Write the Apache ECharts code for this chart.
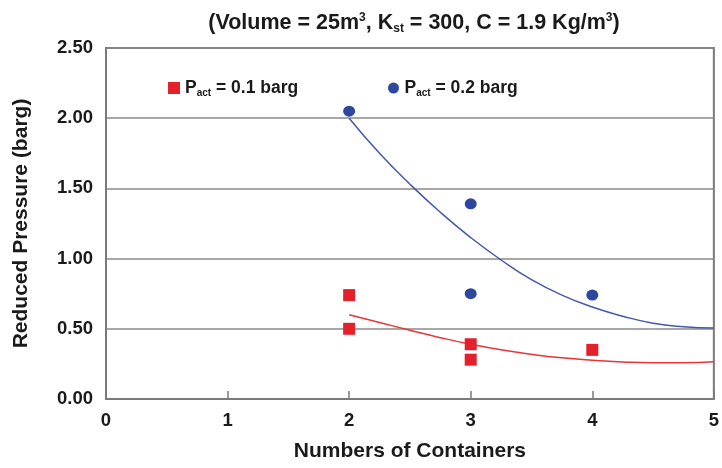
<!DOCTYPE html>
<html>
<head>
<meta charset="utf-8">
<script src="https://cdn.jsdelivr.net/npm/echarts@6/dist/echarts.min.js"></script>
<style>html,body{margin:0;padding:0;background:#fff}#c{width:722px;height:468px}</style>
</head>
<body>
<div id="c"></div>
<script>
// Measured points
const redPoints = [[2, 0.74], [2, 0.50], [3, 0.39], [3, 0.28], [4, 0.35]];
const bluePoints = [[2, 2.05], [3, 1.39], [3, 0.75], [4, 0.74]];
// Trend curves
const trendX = [2, 2.25, 2.5, 2.75, 3, 3.25, 3.5, 3.75, 4, 4.25, 4.5, 4.75, 5];
const blueTrendY = [2.00, 1.75, 1.53, 1.33, 1.15, 0.99, 0.85, 0.74, 0.655, 0.59, 0.54, 0.515, 0.505];
const redTrendY = [0.60, 0.545, 0.49, 0.437, 0.39, 0.35, 0.318, 0.293, 0.276, 0.264, 0.258, 0.258, 0.265];
const xTicks = [0, 1, 2, 3, 4, 5];
const yTicks = [0, 0.5, 1.0, 1.5, 2.0, 2.5];

const font = 'Liberation Sans, Arial, sans-serif';
const chart = echarts.init(document.getElementById('c'));
const legendRich = {
  b: {fontFamily: font, fontWeight: 'bold', fontSize: 17.5, color: '#1a1a1a'},
  s: {fontFamily: font, fontWeight: 'bold', fontSize: 10, color: '#1a1a1a', verticalAlign: 'bottom', padding: [10, 0, 0, 0]}
};
chart.setOption({
  animation: false,
  title: {
    text: '{b|(Volume = 25m}{sup|3}{b|, K}{sub|st}{b| = 300, C = 1.9 Kg/m}{sup|3}{b|)}',
    left: 409, top: 6, textAlign: 'center',
    textStyle: {
      rich: {
        b: {fontFamily: font, fontWeight: 'bold', fontSize: 21.5, color: '#1a1a1a'},
        sup: {fontFamily: font, fontWeight: 'bold', fontSize: 12, color: '#1a1a1a', padding: [0, 0, 10, 0]},
        sub: {fontFamily: font, fontWeight: 'bold', fontSize: 12, color: '#1a1a1a', padding: [12, 0, 0, 0]}
      }
    }
  },
  legend: [
    {
      data: ['P_act = 0.1 barg'], left: 163, top: 74, itemWidth: 12, itemHeight: 12, itemGap: 7,
      icon: 'rect',
      formatter: () => '{b|P}{s|act}{b| = 0.1 barg}',
      textStyle: {rich: legendRich}
    },
    {
      data: ['P_act = 0.2 barg'], left: 383, top: 74, itemWidth: 12, itemHeight: 11, itemGap: 13,
      icon: 'circle',
      formatter: () => '{b|P}{s|act}{b| = 0.2 barg}',
      textStyle: {rich: legendRich}
    }
  ],
  grid: {left: 106, top: 48, right: 5, bottom: 69, show: true, borderColor: '#7a7a7a', borderWidth: 2, backgroundColor: 'transparent'},
  xAxis: {
    type: 'value', min: xTicks[0], max: xTicks[xTicks.length - 1], interval: 1,
    name: 'Numbers of Containers', nameLocation: 'middle', nameGap: 42,
    nameTextStyle: {fontFamily: font, fontWeight: 'bold', fontSize: 21, color: '#1a1a1a'},
    axisLine: {show: true, lineStyle: {color: '#7a7a7a', width: 2}},
    axisTick: {show: true, inside: true, length: 8, lineStyle: {color: '#7a7a7a', width: 1.5}},
    axisLabel: {fontFamily: font, fontWeight: 'bold', fontSize: 18.5, color: '#1a1a1a', margin: 12},
    splitLine: {show: false}
  },
  yAxis: {
    type: 'value', min: yTicks[0], max: yTicks[yTicks.length - 1], interval: 0.5,
    name: 'Reduced Pressure (barg)', nameLocation: 'middle', nameGap: 74,
    nameTextStyle: {fontFamily: font, fontWeight: 'bold', fontSize: 21, color: '#1a1a1a'},
    axisLine: {show: true, lineStyle: {color: '#7a7a7a', width: 2}},
    axisTick: {show: false},
    axisLabel: {fontFamily: font, fontWeight: 'bold', fontSize: 18.5, color: '#1a1a1a', margin: 13,
      formatter: v => v.toFixed(2)},
    splitLine: {show: true, lineStyle: {color: '#8a8a8a', width: 1.5}}
  },
  series: [
    {
      name: 'P_act = 0.1 barg', type: 'scatter', data: redPoints,
      symbol: 'rect', symbolSize: 12, itemStyle: {color: '#e3212a', opacity: 1}, z: 5
    },
    {
      name: 'P_act = 0.2 barg', type: 'scatter', data: bluePoints,
      symbol: 'circle', symbolSize: [12, 11], itemStyle: {color: '#2d479e', opacity: 1}, z: 5
    },
    {
      name: 'blueTrend', type: 'line', smooth: true, showSymbol: false, symbol: 'none',
      data: trendX.map((x, i) => [x, blueTrendY[i]]),
      lineStyle: {color: '#4658a8', width: 1.5}, z: 3
    },
    {
      name: 'redTrend', type: 'line', smooth: true, showSymbol: false, symbol: 'none',
      data: trendX.map((x, i) => [x, redTrendY[i]]),
      lineStyle: {color: '#e8343a', width: 1.5}, z: 3
    }
  ]
});
</script>
</body>
</html>
